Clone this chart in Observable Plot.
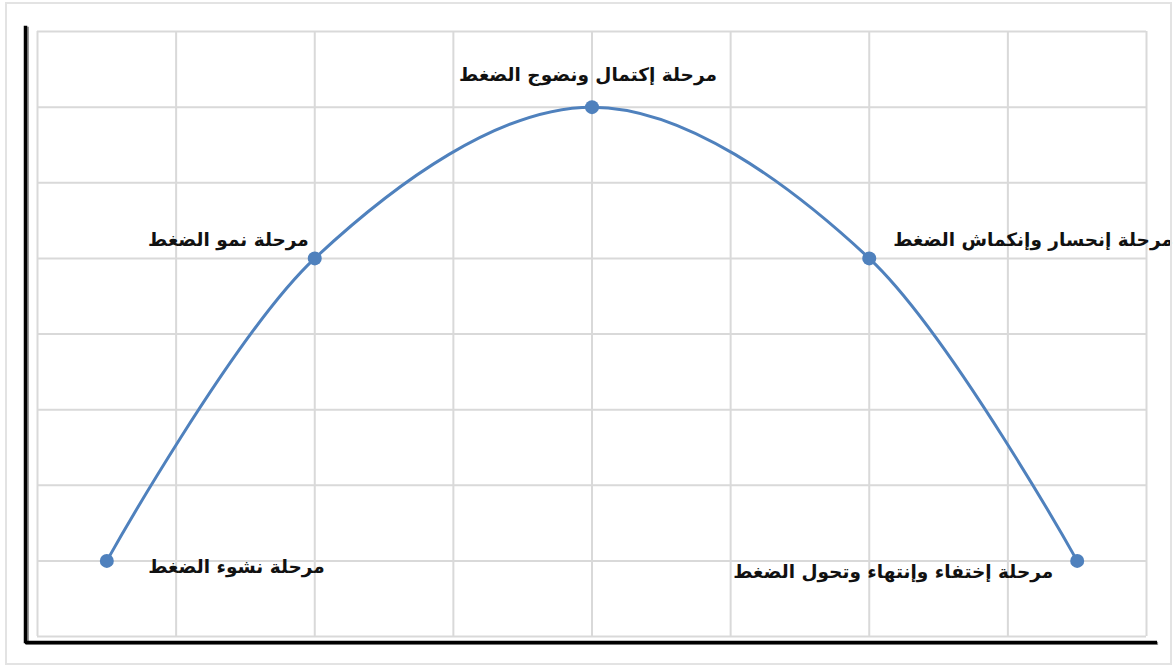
<!DOCTYPE html>
<html>
<head>
<meta charset="utf-8">
<script src="https://cdn.jsdelivr.net/npm/d3@7"></script>
<script src="https://cdn.jsdelivr.net/npm/@observablehq/plot@0.6"></script>
<style>
  html, body { margin: 0; padding: 0; background: #fff; }
  #wrap { position: relative; width: 1175px; height: 666px; }
  #border { position: absolute; left: 5px; top: 2px; width: 1163px; height: 659px; border: 2px solid #e3e3e3; pointer-events: none; }
</style>
</head>
<body>
<div id="wrap"><div id="border"></div></div>
<script>
// Data
const stages = [
  "مرحلة نشوء الضغط",
  "مرحلة نمو الضغط",
  "مرحلة إكتمال ونضوج الضغط",
  "مرحلة إنحسار وإنكماش الضغط",
  "مرحلة إختفاء وإنتهاء وتحول الضغط"
];
const xValues = [0.5, 2, 4, 6, 7.5];
const yValues = [1, 5, 7, 5, 1];
const gridX = [0, 1, 2, 3, 4, 5, 6, 7, 8];
const gridY = [0, 1, 2, 3, 4, 5, 6, 7, 8];

const data = stages.map((s, i) => ({stage: s, x: xValues[i], y: yValues[i]}));

const blue = "#4f81bd";
const font = "'DejaVu Sans', sans-serif";

const labelOpts = [
  {textAnchor: "end", dx: 218, dy: 6},
  {textAnchor: "end", dx: -6, dy: -18},
  {textAnchor: "middle", dx: -4, dy: -32},
  {textAnchor: "start", dx: 24, dy: -18},
  {textAnchor: "end", dx: -24, dy: 11}
];

const labelMarks = labelOpts.map((o, k) =>
  Plot.text(data, {
    filter: (d, i) => i === k,
    x: "x", y: "y", text: "stage",
    textAnchor: o.textAnchor, dx: o.dx, dy: o.dy,
    fontSize: 18.5, fontWeight: "bold", fill: "#111", fontFamily: font
  })
);

const chart = Plot.plot({
  width: 1175,
  height: 666,
  marginLeft: 37,
  marginRight: 29,
  marginTop: 31,
  marginBottom: 30,
  x: {domain: [0, 8], axis: null},
  y: {domain: [0, 8], axis: null},
  style: {background: "transparent", fontFamily: font},
  marks: [
    Plot.ruleX(gridX, {stroke: "#d9d9d9", strokeWidth: 2}),
    Plot.ruleY(gridY, {stroke: "#d9d9d9", strokeWidth: 2}),
    // axis lines (with faint shadow)
    Plot.ruleX([0], {dx: -10, dy: 1, y1: -0.095, y2: 8.07, stroke: "#999", strokeWidth: 3}),
    Plot.ruleY([0], {dx: 1, dy: 7, x1: -0.087, x2: 8.08, stroke: "#999", strokeWidth: 3}),
    Plot.ruleX([0], {dx: -12, y1: -0.095, y2: 8.07, stroke: "#000", strokeWidth: 3.5}),
    Plot.ruleY([0], {dy: 6, x1: -0.087, x2: 8.08, stroke: "#000", strokeWidth: 3.5}),
    Plot.line(data, {x: "x", y: "y", curve: "cardinal", tension: 0, stroke: blue, strokeWidth: 3}),
    Plot.dot(data, {x: "x", y: "y", r: 7, fill: blue, stroke: "none"}),
    ...labelMarks
  ]
});
document.getElementById("wrap").prepend(chart);
</script>
</body>
</html>
